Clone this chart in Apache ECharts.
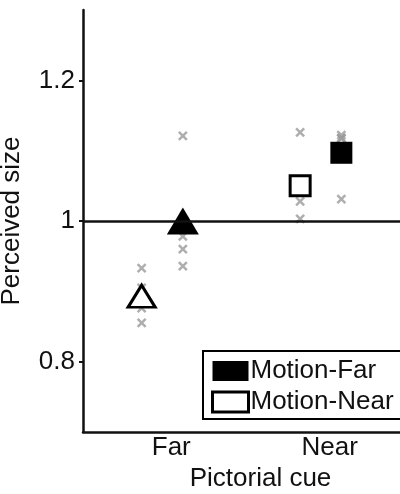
<!DOCTYPE html>
<html>
<head>
<meta charset="utf-8">
<script src="https://cdn.jsdelivr.net/npm/echarts@6/dist/echarts.min.js"></script>
<style>
  html, body { margin: 0; padding: 0; background: #fff; }
  #chart { width: 400px; height: 494px; }
</style>
</head>
<body>
<div id="chart"></div>
<script>
// Pictorial cue groups on the x axis and the y tick values
const categories = ['Far', 'Near'];
const yTicks = [0.8, 1, 1.2];

// Mean perceived size per pictorial cue, for each motion condition
const meanMotionFar = [1.0, 1.097];
const meanMotionNear = [0.893, 1.05];

// Individual observers per pictorial cue
const subjMotionFar = [[1.121, 0.978, 0.960, 0.936], [1.122, 1.118, 1.117, 1.031]];
const subjMotionNear = [[0.933, 0.905, 0.876, 0.855], [1.126, 1.045, 1.028, 1.003]];

// Horizontal shift of each motion condition inside its group
const shift = 0.13;

const FONT = "'Liberation Sans', Arial, sans-serif";
const TEXT = '#111';

function meanPoints(means, dx, fill) {
  return means.map((v, i) => ({
    value: [i + 1 + dx, v],
    symbol: i === 0 ? 'triangle' : 'rect',
    symbolSize: i === 0 ? (fill ? [32, 27] : [27, 22]) : (fill ? 22 : 20)
  }));
}

function subjectPoints() {
  const pts = [];
  subjMotionFar.forEach((vals, i) => vals.forEach(v => pts.push([i + 1 + shift, v])));
  subjMotionNear.forEach((vals, i) => vals.forEach(v => pts.push([i + 1 - shift, v])));
  return pts;
}

const chart = echarts.init(document.getElementById('chart'), null, { renderer: 'canvas' });

chart.setOption({
  animation: false,
  backgroundColor: '#fff',
  textStyle: { fontFamily: FONT },
  grid: { left: 83, right: 0, top: 10, bottom: 62, containLabel: false, outerBoundsMode: 'none' },
  legend: {
    orient: 'vertical',
    left: 203,
    top: 351,
    padding: [7, 12, 4, 8],
    itemGap: 5,
    itemWidth: 36,
    itemHeight: 20,
    borderColor: '#000',
    borderWidth: 2,
    borderRadius: 0,
    textStyle: { fontFamily: FONT, fontSize: 26, color: TEXT, padding: [0, 0, 0, -3] },
    selectedMode: false,
    data: [
      { name: 'Motion-Far', icon: 'rect', itemStyle: { color: '#000', borderWidth: 0 } },
      { name: 'Motion-Near', icon: 'rect', itemStyle: { color: '#fff', borderColor: '#000', borderWidth: 3 } }
    ]
  },
  xAxis: {
    type: 'value',
    min: 0.5,
    max: 2.5,
    name: 'Pictorial cue',
    nameLocation: 'middle',
    nameGap: 34,
    nameTextStyle: { fontFamily: FONT, fontSize: 26, color: TEXT, padding: [0, 0, 0, 38] },
    axisLine: { show: true, onZero: false, lineStyle: { color: '#111', width: 2.5 } },
    axisTick: { show: false },
    splitLine: { show: false },
    axisLabel: {
      customValues: categories.map((c, i) => i + 1),
      formatter: v => categories[Math.round(v) - 1],
      fontFamily: FONT,
      fontSize: 26,
      color: TEXT,
      margin: 3,
      padding: [0, 0, 0, 18]
    }
  },
  yAxis: {
    type: 'value',
    min: 0.7,
    max: 1.3,
    name: 'Perceived size',
    nameLocation: 'middle',
    nameGap: 46,
    nameRotate: 90,
    nameTextStyle: { fontFamily: FONT, fontSize: 26, color: TEXT, padding: [0, 0, 12, 0] },
    axisLine: { show: true, onZero: false, lineStyle: { color: '#111', width: 2.5 } },
    axisTick: { show: true, customValues: yTicks, length: 4, lineStyle: { color: '#111', width: 2 } },
    splitLine: { show: false },
    axisLabel: {
      customValues: yTicks,
      fontFamily: FONT,
      fontSize: 26,
      color: TEXT,
      margin: 8
    }
  },
  series: [
    {
      name: 'Observers',
      type: 'scatter',
      z: 2,
      silent: true,
      symbol: 'path://M0,0L10,10M10,0L0,10',
      symbolSize: 8,
      itemStyle: { color: 'transparent', borderColor: '#9a9a9a', borderWidth: 2.5 },
      data: subjectPoints(),
      markLine: {
        silent: true,
        symbol: ['none', 'none'],
        label: { show: false },
        lineStyle: { color: '#111', width: 2.5, type: 'solid' },
        data: [{ yAxis: 1 }]
      }
    },
    {
      name: 'Motion-Far',
      type: 'scatter',
      z: 3,
      itemStyle: { color: '#000', opacity: 1 },
      data: meanPoints(meanMotionFar, shift, true)
    },
    {
      name: 'Motion-Near',
      type: 'scatter',
      z: 3,
      itemStyle: { color: '#fff', borderColor: '#000', borderWidth: 3, opacity: 1 },
      data: meanPoints(meanMotionNear, -shift, false)
    }
  ]
});
</script>
</body>
</html>
